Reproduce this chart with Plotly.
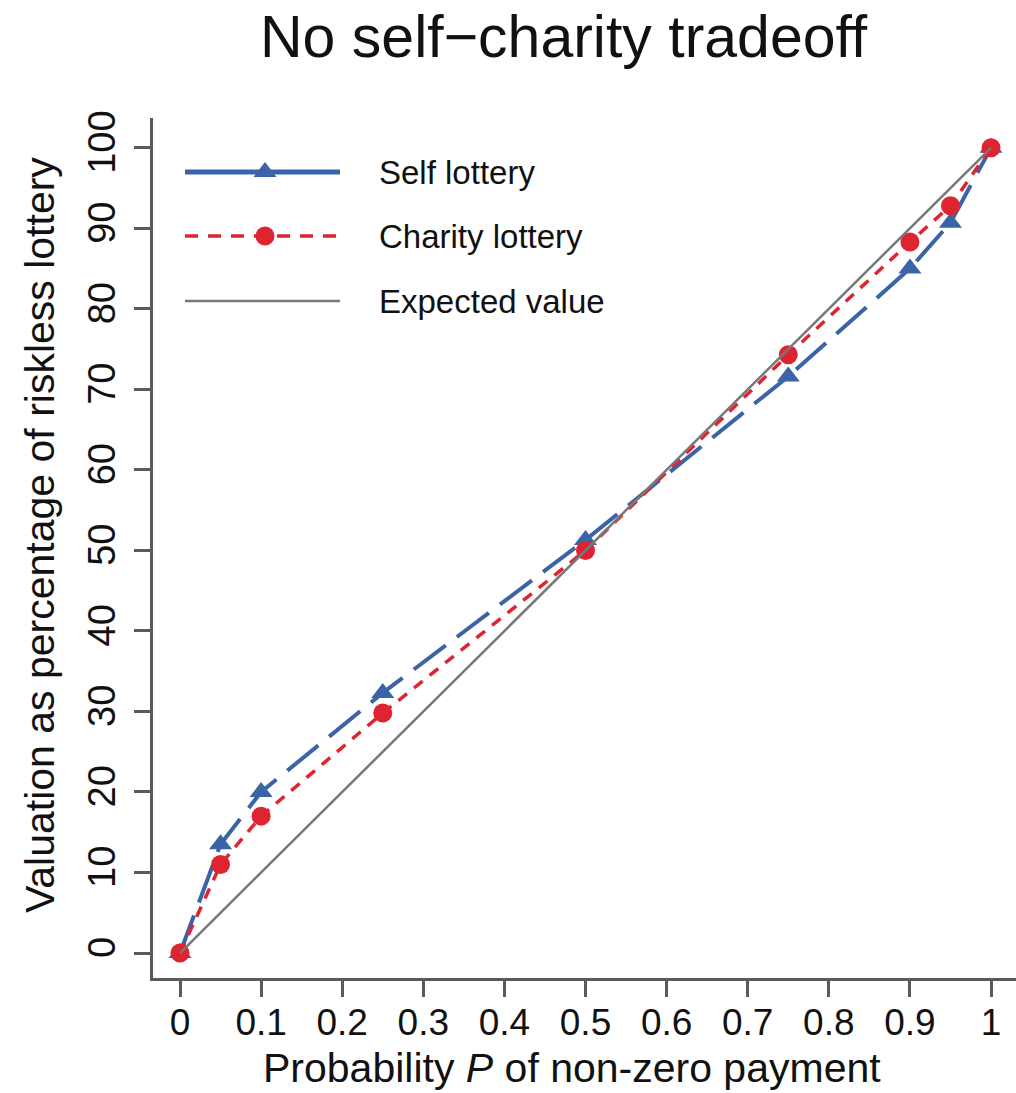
import plotly.graph_objects as go

# ---- data ----
prob = [0, 0.05, 0.1, 0.25, 0.5, 0.75, 0.9, 0.95, 1]
self_lottery = [0, 13.5, 20, 32.3, 51.3, 71.6, 85.0, 90.7, 100]
charity_lottery = [0, 11, 17, 29.8, 50.0, 74.3, 88.3, 92.8, 100]
expected_value = [0, 100]
ev_prob = [0, 1]
x_ticks = [0, 0.1, 0.2, 0.3, 0.4, 0.5, 0.6, 0.7, 0.8, 0.9, 1]
x_tick_labels = ["0", "0.1", "0.2", "0.3", "0.4", "0.5", "0.6", "0.7", "0.8", "0.9", "1"]
y_ticks = [0, 10, 20, 30, 40, 50, 60, 70, 80, 90, 100]
legend_names = ["Self lottery", "Charity lottery", "Expected value"]

BLUE = "#3B64A6"
RED = "#DE2430"
GRAY = "#787878"
AXIS = "#5a5a5a"
FONT = "Liberation Sans, Arial, sans-serif"

W, H = 1016, 1093
L, R, T, B = 153, 0, 118, 115   # plot area: x 153..1016, y 118..978

fig = go.Figure()

fig.add_trace(go.Scatter(
    x=prob, y=self_lottery, mode="lines+markers", name=legend_names[0],
    line=dict(color=BLUE, width=4, dash="40px,14px"),
    marker=dict(symbol="triangle-up", size=20, color=BLUE),
    showlegend=False, cliponaxis=False))
fig.add_trace(go.Scatter(
    x=prob, y=charity_lottery, mode="lines+markers", name=legend_names[1],
    line=dict(color=RED, width=3.5, dash="11px,9px"),
    marker=dict(symbol="circle", size=19, color=RED),
    showlegend=False, cliponaxis=False))
fig.add_trace(go.Scatter(
    x=ev_prob, y=expected_value, mode="lines", name=legend_names[2],
    line=dict(color=GRAY, width=2.5),
    showlegend=False, cliponaxis=False))

# ---- custom legend on a pixel-coordinate overlay axis ----
leg_rows = [172, 236, 301]
leg_x0, leg_x1, leg_mid, leg_text_x = 185, 340, 265, 377
leg_styles = [
    dict(line=dict(color=BLUE, width=5), marker=dict(symbol="triangle-up", size=20, color=BLUE)),
    dict(line=dict(color=RED, width=3.5, dash="13px,10px"), marker=dict(symbol="circle", size=19, color=RED)),
    dict(line=dict(color=GRAY, width=2.5), marker=None),
]
for name, yy, st in zip(legend_names, leg_rows, leg_styles):
    fig.add_trace(go.Scatter(
        x=[leg_x0, leg_x1], y=[yy, yy], mode="lines", line=st["line"],
        xaxis="x2", yaxis="y2", showlegend=False, hoverinfo="skip"))
    if st["marker"] is not None:
        fig.add_trace(go.Scatter(
            x=[leg_mid], y=[yy], mode="markers", marker=st["marker"],
            xaxis="x2", yaxis="y2", showlegend=False, hoverinfo="skip"))
    fig.add_annotation(x=leg_text_x, y=yy, xref="x2", yref="y2", text=name,
                       showarrow=False, xanchor="left", yanchor="middle",
                       font=dict(family=FONT, size=33, color="#111"))

pw, ph = W - L - R, H - T - B
def px_x(p):
    return (p - L) / pw
def px_y(p):
    return (H - B - p) / ph

# titles
fig.add_annotation(x=px_x(564), y=px_y(37), xref="paper", yref="paper",
                   text="No self\u2212charity tradeoff", showarrow=False,
                   xanchor="center", yanchor="middle",
                   font=dict(family=FONT, size=59, color="#111"))
fig.add_annotation(x=px_x(572), y=px_y(1068), xref="paper", yref="paper",
                   text="Probability <i>P</i> of non-zero payment", showarrow=False,
                   xanchor="center", yanchor="middle",
                   font=dict(family=FONT, size=41, color="#111"))
fig.add_annotation(x=px_x(40), y=px_y(535), xref="paper", yref="paper",
                   text="Valuation as percentage of riskless lottery", showarrow=False,
                   textangle=-90, xanchor="center", yanchor="middle",
                   font=dict(family=FONT, size=41, color="#111"))

fig.update_layout(
    width=W, height=H,
    margin=dict(l=L, r=R, t=T, b=B, pad=0),
    paper_bgcolor="white", plot_bgcolor="white",
    font=dict(family=FONT, color="#111"),
    xaxis=dict(range=[-0.0333, 1.0308], tickvals=x_ticks, ticktext=x_tick_labels,
               showgrid=False, zeroline=False, showline=True, linecolor=AXIS, linewidth=3,
               ticks="outside", ticklen=16, tickwidth=2.5, tickcolor=AXIS,
               tickfont=dict(family=FONT, size=37, color="#111"), ticklabelstandoff=-6),
    yaxis=dict(range=[-3.1, 103.7], tickvals=y_ticks,
               showgrid=False, zeroline=False, showline=True, linecolor=AXIS, linewidth=3,
               ticks="outside", ticklen=16, tickwidth=2.5, tickcolor=AXIS, tickangle=-90,
               tickfont=dict(family=FONT, size=38, color="#111"), ticklabelstandoff=4),
    xaxis2=dict(overlaying="x", range=[L, W - R], visible=False, fixedrange=True),
    yaxis2=dict(overlaying="y", range=[H - B, T], visible=False, fixedrange=True),
    showlegend=False,
)

fig.write_html("out.html")
